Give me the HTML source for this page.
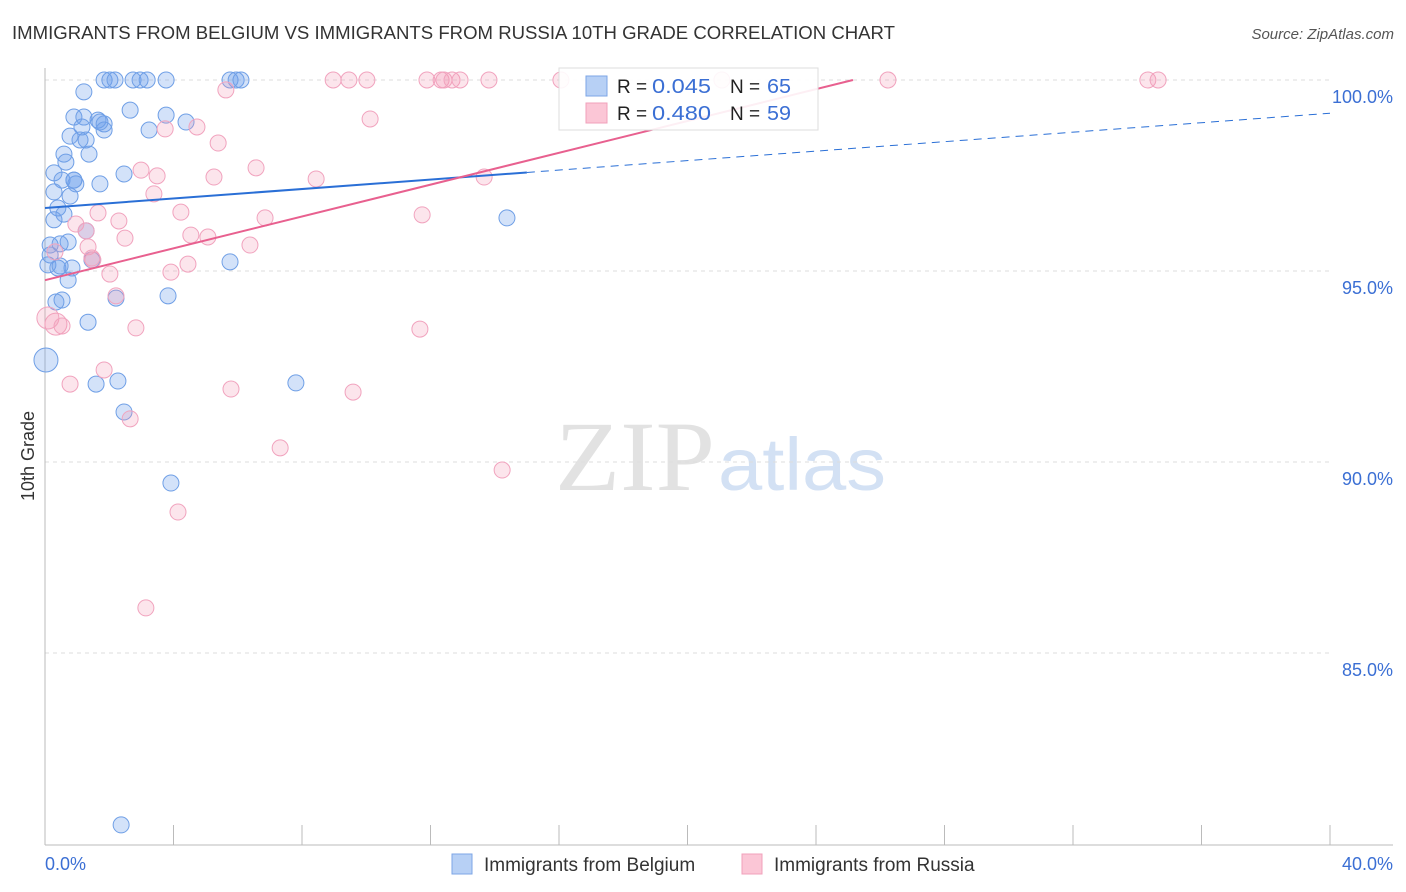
<!DOCTYPE html>
<html><head><meta charset="utf-8"><style>
body{margin:0;background:#fff;font-family:"Liberation Sans",sans-serif;}
svg{display:block}
</style></head><body>
<svg id="chart" width="1406" height="892"></svg>
<script>
const blueX=[1.84,2.02,2.18,2.74,2.96,3.18,3.77,5.76,5.95,6.10,1.21,2.65,0.90,1.21,1.65,1.84,3.77,4.39,1.15,0.78,1.09,1.28,1.84,3.24,0.59,1.37,0.65,2.46,0.28,0.53,0.90,0.96,1.71,0.28,0.78,0.40,0.59,0.28,1.28,0.16,0.72,0.47,0.16,0.09,0.40,0.84,1.46,5.76,0.72,0.53,0.34,2.21,3.83,1.34,0.03,1.59,2.27,7.81,2.46,3.92,2.37,14.38,0.90,1.71,0.47];
const blueY=[100,100,100,100,100,100,100,100,100,100,99.69,99.21,99.03,99.03,98.95,98.85,99.08,98.90,98.77,98.53,98.43,98.43,98.69,98.69,98.06,98.06,97.85,97.54,97.57,97.38,97.38,97.28,97.28,97.07,96.96,96.65,96.49,96.34,96.05,95.68,95.76,95.71,95.42,95.16,95.08,95.08,95.29,95.24,94.76,94.24,94.19,94.29,94.35,93.66,92.67,92.04,92.12,92.07,91.31,89.45,80.5,96.39,97.38,98.90,95.13];
const pinkX=[8.97,9.46,10.02,11.89,12.33,12.42,12.67,12.92,13.82,16.06,21.07,26.24,34.33,34.65,5.63,10.12,4.73,3.74,5.39,2.99,6.57,3.49,5.26,8.44,13.67,3.39,1.65,4.23,6.85,11.74,2.30,0.96,1.28,4.54,5.07,2.49,6.38,1.34,0.31,1.49,4.45,3.92,2.02,2.21,2.83,0.34,0.09,11.67,0.78,1.84,5.79,9.59,2.65,7.32,14.23,4.14,3.14,0.53,1.46];
const pinkY=[100,100,100,100,100,100,100,100,100,100,100,100,100,100,99.74,98.98,98.77,98.72,98.35,97.64,97.70,97.49,97.46,97.41,97.46,97.02,96.52,96.54,96.39,96.47,96.31,96.23,96.05,95.94,95.89,95.86,95.68,95.63,95.50,95.29,95.18,94.97,94.92,94.35,93.51,93.61,93.77,93.48,92.04,92.41,91.91,91.83,91.13,90.37,89.79,88.69,86.18,93.56,95.34];
const yTicks=[100,95,90,85];
const yTickLabels=["100.0%","95.0%","90.0%","85.0%"];
const blueTrend=[96.65,99.13]; const blueSolidEnd=15;
const pinkTrend=[94.76,100]; const pinkEnd=25.15;

const X=v=>45+v*32.125, Y=v=>80+(100-v)*38.2;
const svg=document.getElementById('chart');
const NS='http://www.w3.org/2000/svg';
function mk(t,a,txt){const e=document.createElementNS(NS,t);for(const k in a)e.setAttribute(k,a[k]);if(txt!==undefined)e.textContent=txt;svg.appendChild(e);return e;}

let e;
e=mk('text',{x:12,y:39,'font-size':18,fill:'#333',textLength:883,lengthAdjust:'spacingAndGlyphs'},'IMMIGRANTS FROM BELGIUM VS IMMIGRANTS FROM RUSSIA 10TH GRADE CORRELATION CHART');


e=mk('text',{x:1394,y:39,'font-size':15,fill:'#555','text-anchor':'end','font-style':'italic'},'Source: ZipAtlas.com');


e=mk('text',{x:555,y:490,'font-size':100,fill:'#e2e2e2','font-family':'Liberation Serif',textLength:160,lengthAdjust:'spacingAndGlyphs'},'ZIP');


e=mk('text',{x:718,y:490,'font-size':74,fill:'#d3e1f4',textLength:168,lengthAdjust:'spacingAndGlyphs'},'atlas');



yTicks.forEach((t,i)=>{
  e=mk('line',{x1:45,x2:1330,y1:Y(t),y2:Y(t),stroke:'#ddd','stroke-dasharray':'4,4'});
  
  
  e=mk('text',{x:1393,y:Y(t)+23,'font-size':18,fill:'#3b6fd4','text-anchor':'end'},yTickLabels[i]);
  
  
});
e=mk('line',{x1:45,x2:45,y1:68,y2:845,stroke:'#bbb'});


e=mk('line',{x1:45,x2:1393,y1:845,y2:845,stroke:'#bbb'});


for(let i=0;i<=10;i++){
  e=mk('line',{x1:X(i*4),x2:X(i*4),y1:825,y2:845,stroke:'#bbb'});
  
  
}
e=mk('text',{x:45,y:870,'font-size':18,fill:'#3b6fd4'},'0.0%');


e=mk('text',{x:1393,y:870,'font-size':18,fill:'#3b6fd4','text-anchor':'end'},'40.0%');


e=mk('text',{x:34,y:456,'font-size':18,fill:'#333','text-anchor':'middle',transform:'rotate(-90 34 456)'},'10th Grade');



blueX.forEach((x,i)=>{
  e=mk('circle',{cx:X(x),cy:Y(blueY[i]),r:i==54?12:8,fill:'rgba(110,160,235,0.3)',stroke:'#6f9fe6','stroke-width':1});
  
  
});
pinkX.forEach((x,i)=>{
  e=mk('circle',{cx:X(x),cy:Y(pinkY[i]),r:(i==46||i==45)?11:8,fill:'rgba(245,150,180,0.25)',stroke:'#f1a3be','stroke-width':1});
  
  
});
const bAt=x=>blueTrend[0]+(blueTrend[1]-blueTrend[0])*x/40;
e=mk('line',{x1:X(0),y1:Y(bAt(0)),x2:X(blueSolidEnd),y2:Y(bAt(blueSolidEnd)),stroke:'#2a6fd6','stroke-width':2});


e=mk('line',{x1:X(blueSolidEnd),y1:Y(bAt(blueSolidEnd)),x2:X(40),y2:Y(bAt(40)),stroke:'#2a6fd6','stroke-width':1,'stroke-dasharray':'8,6'});


e=mk('line',{x1:X(0),y1:Y(pinkTrend[0]),x2:X(pinkEnd),y2:Y(pinkTrend[1]),stroke:'#e8608f','stroke-width':2});



e=mk('rect',{x:559,y:68,width:259,height:62,fill:'rgba(255,255,255,0.9)',stroke:'#ddd'});


[['#b7d0f5','#7ca6e6','0.045','65',86],['#fbc6d6','#f0a0bb','0.480','59',113]].forEach(r=>{
  e=mk('rect',{x:586,y:r[4]-10,width:21,height:20,fill:r[0],stroke:r[1]});
  
  
  e=mk('text',{x:617,y:r[4]+7,'font-size':19,fill:'#222'},'R = ');
  
  
  e=mk('text',{x:652,y:r[4]+7,'font-size':20,fill:'#3b6fd4',textLength:59,lengthAdjust:'spacingAndGlyphs'},r[2]);
  
  
  e=mk('text',{x:730,y:r[4]+7,'font-size':19,fill:'#222'},'N = ');
  
  
  e=mk('text',{x:767,y:r[4]+7,'font-size':20,fill:'#3b6fd4',textLength:24,lengthAdjust:'spacingAndGlyphs'},r[3]);
  
  
});
[[452,'#b7d0f5','#7ca6e6','Immigrants from Belgium'],[742,'#fbc6d6','#f0a0bb','Immigrants from Russia']].forEach(r=>{
  e=mk('rect',{x:r[0],y:854,width:20,height:20,fill:r[1],stroke:r[2]});
  
  
  e=mk('text',{x:r[0]+32,y:871,'font-size':19,fill:'#333'},r[3]);
  
  
});
</script>
</body></html>
